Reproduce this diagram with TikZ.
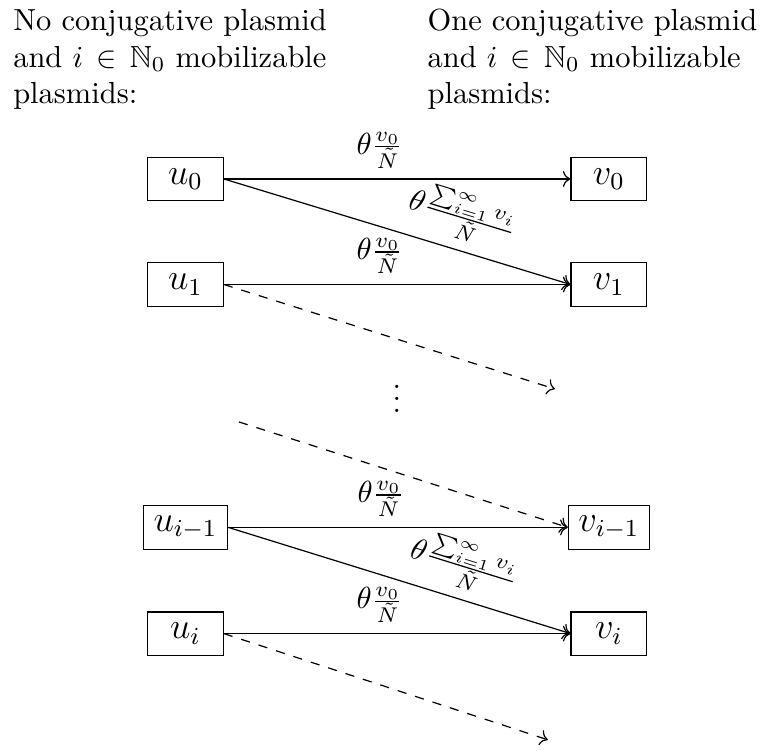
\documentclass[tikz,border=0pt]{standalone}
\usepackage{amsmath, amssymb}
\usepackage{tikz}
\usetikzlibrary{arrows.meta, calc}

\begin{document}
\begin{tikzpicture}[
  pbox/.style={draw, font=\large, minimum width=0.87cm, minimum height=0.5cm},
  coltext/.style={anchor=north west, inner sep=0pt, text width=4cm, align=left},
  rate/.style={above, pos=0.45}]
\useasboundingbox (0,0) rectangle (8.85,-8.65);
% ======== column headers ========
\node[coltext] (hdrL) at (0.146,-0.1) {No conjugative plasmid and $i \in \mathbb{N}_0$ mobilizable plasmids:};
\node[coltext] (hdrR) at (4.92,-0.1) {One conjugative plasmid and $i \in \mathbb{N}_0$ mobilizable plasmids:};
% ======== states ========
\node[pbox] (u0) at (2.137,-2.062) {$u_0$};
\node[pbox] (v0) at (7.016,-2.062) {$v_0$};
\node[pbox] (u1) at (2.137,-3.278) {$u_1$};
\node[pbox] (v1) at (7.016,-3.278) {$v_1$};
\node[pbox] (uim) at (2.137,-6.077) {$u_{i-1}$};
\node[pbox] (vim) at (7.016,-6.077) {$v_{i-1}$};
\node[pbox] (ui) at (2.137,-7.301) {$u_i$};
\node[pbox] (vi) at (7.016,-7.301) {$v_i$};
\node (dots) at (4.574,-4.49) {$\vdots$};
% free ends of the dashed transitions
\coordinate (t1) at (6.394,-4.482);
\coordinate (d1) at (2.753,-4.862);
\coordinate (t2) at (6.313,-8.525);
% ======== transitions ========
\draw[->] (u0) -- node[rate] {$\theta\frac{v_0}{\tilde N}$} (v0);
\draw[->] (u0.east) -- node[above, sloped, pos=0.66] {$\theta\frac{\sum_{i=1}^\infty v_i}{\tilde N}$} (v1.west);
\draw[->] (u1) -- node[rate] {$\theta\frac{v_0}{\tilde N}$} (v1);
\draw[->, dashed] (u1.east) -- (t1);
\draw[->, dashed] (d1) -- (vim.west);
\draw[->] (uim) -- node[rate] {$\theta\frac{v_0}{\tilde N}$} (vim);
\draw[->] (uim.east) -- node[above, sloped, pos=0.66] {$\theta\frac{\sum_{i=1}^\infty v_i}{\tilde N}$} (vi.west);
\draw[->] (ui) -- node[rate] {$\theta\frac{v_0}{\tilde N}$} (vi);
\draw[->, dashed] (ui.east) -- (t2);
\end{tikzpicture}
\end{document}
